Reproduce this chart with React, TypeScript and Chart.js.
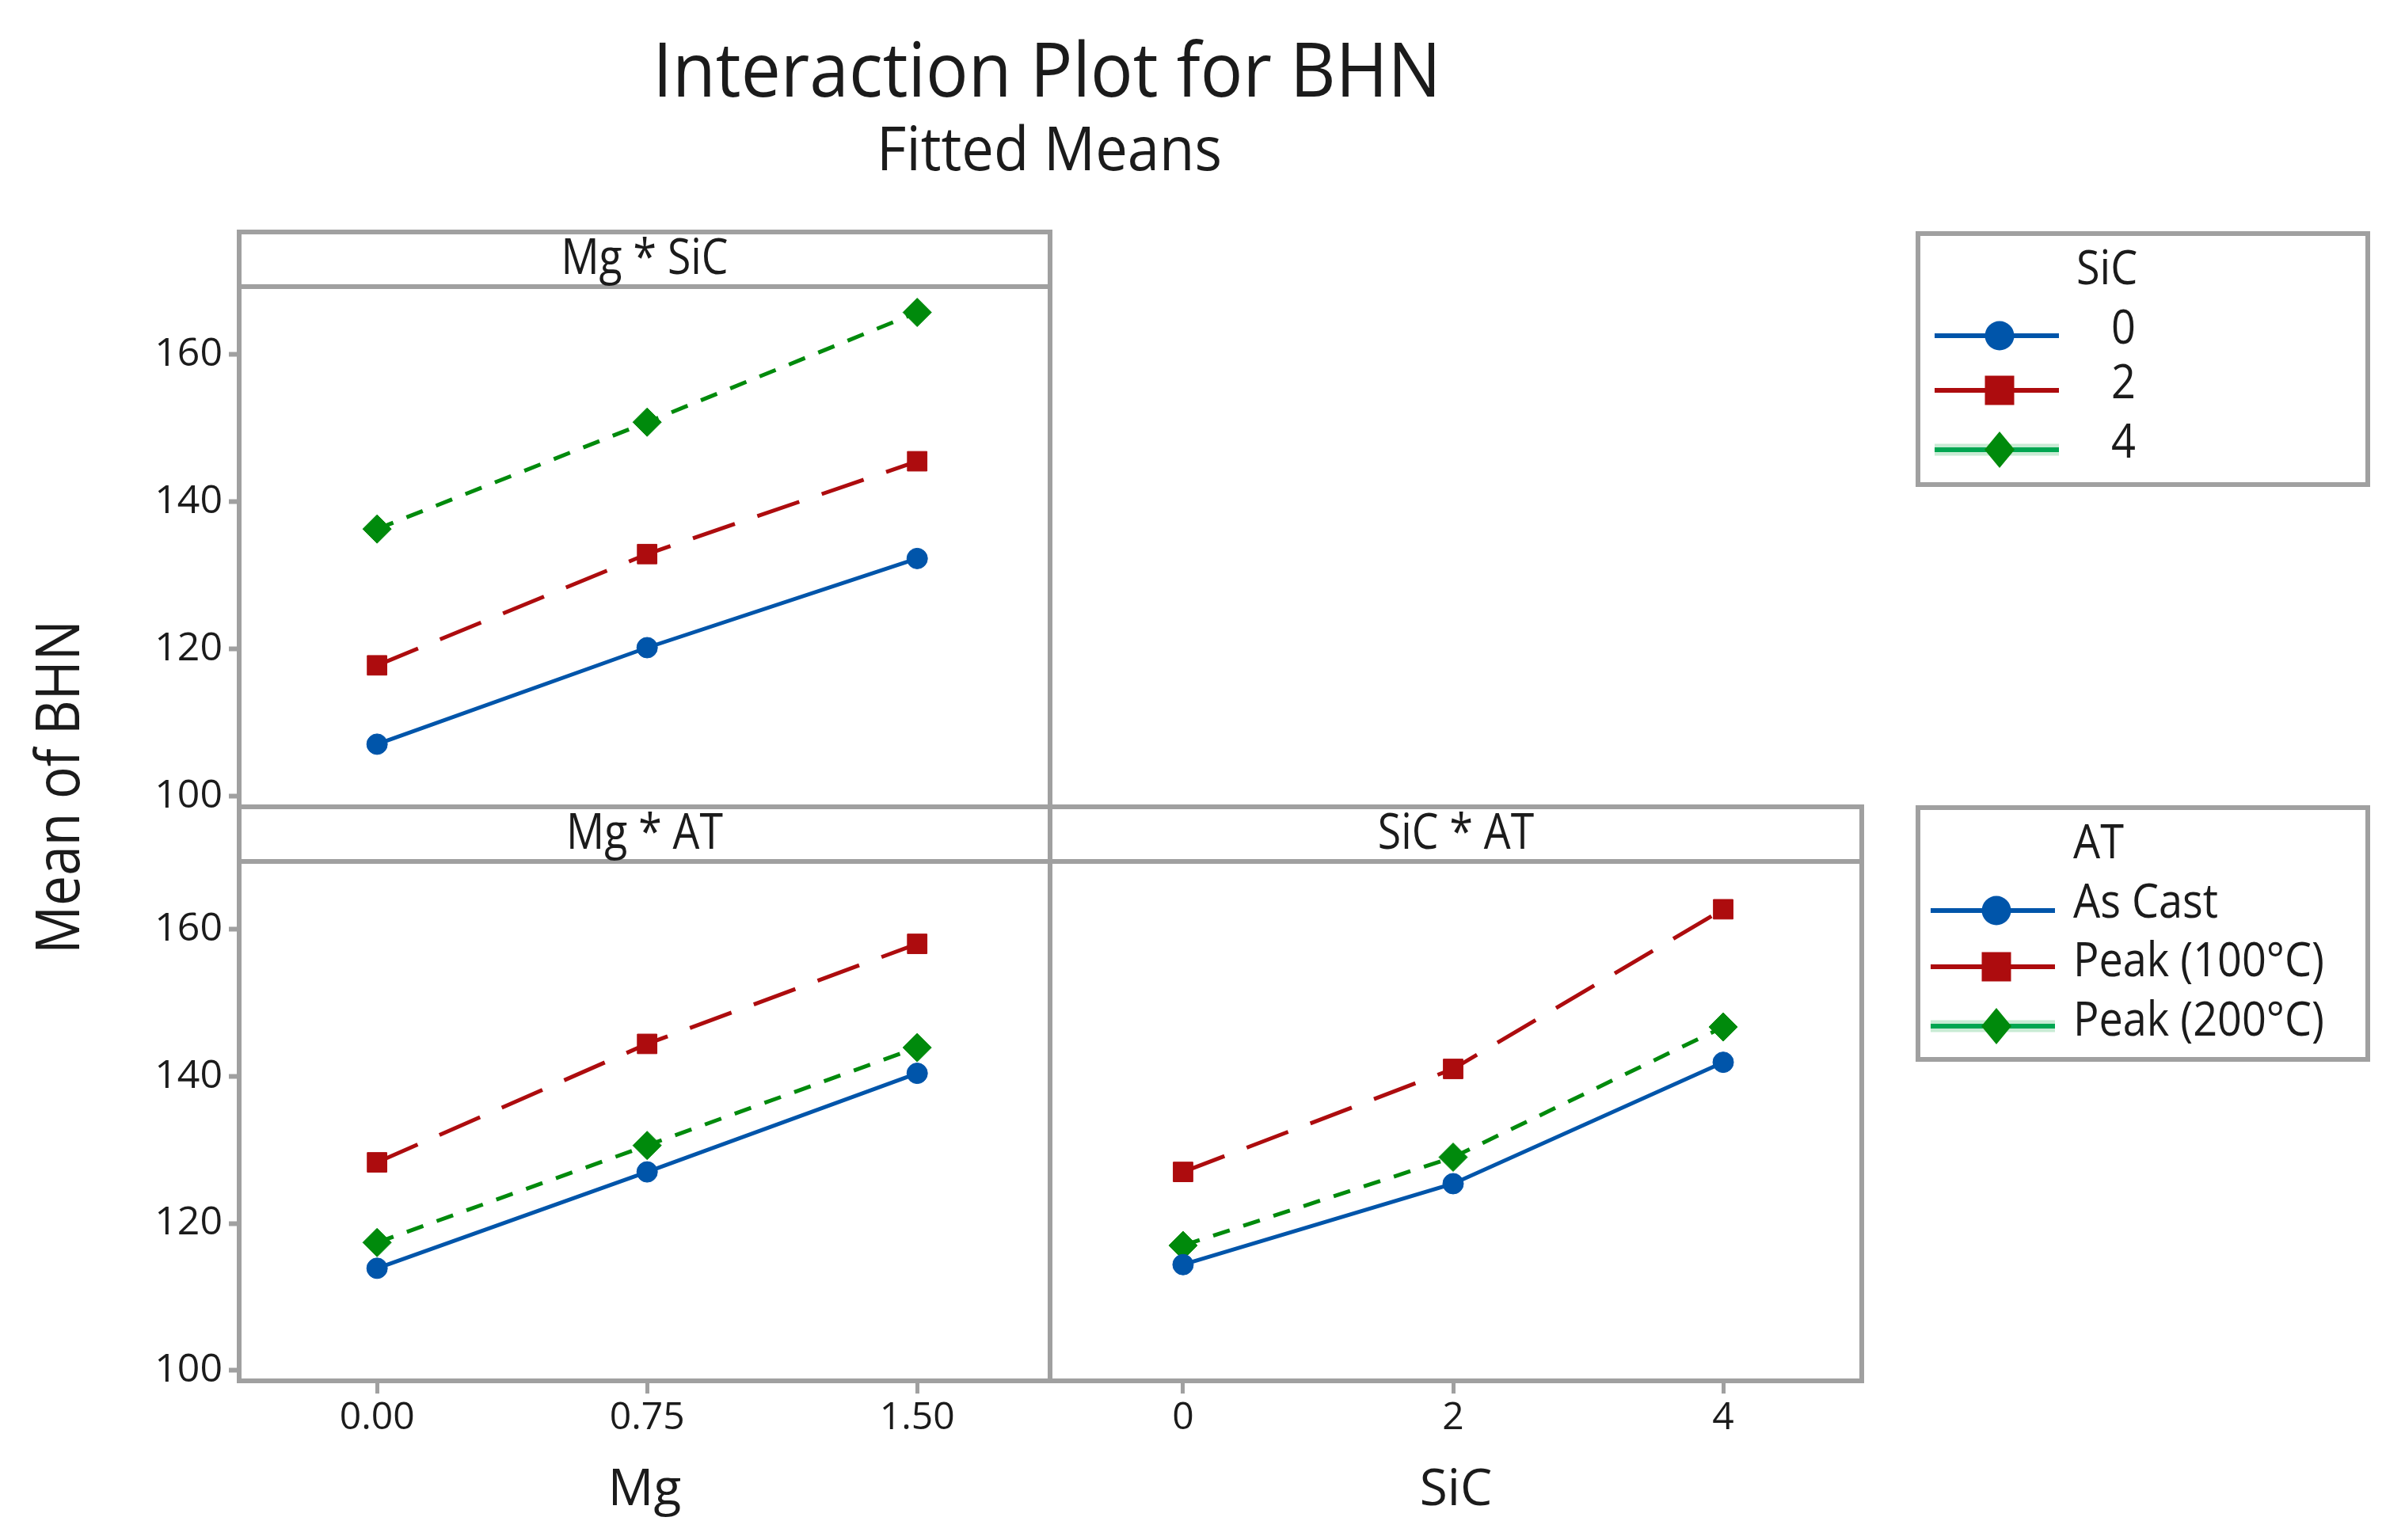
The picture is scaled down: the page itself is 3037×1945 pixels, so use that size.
import React, { useEffect, useRef } from "react";
import { Chart, registerables } from "chart.js";

Chart.register(...registerables);

// ---------------- data ----------------
const mgLevels = [0, 0.75, 1.5];
const mgTickLabels = ["0.00", "0.75", "1.50"];
const sicLevels = [0, 2, 4];
const sicTickLabels = ["0", "2", "4"];
const yTickValues = [100, 120, 140, 160];
const yTickLabels = ["100", "120", "140", "160"];

const sicNames = ["0", "2", "4"];
const atNames = ["As Cast", "Peak (100°C)", "Peak (200°C)"];

// Mg * SiC (series = SiC level)
const mgSic0 = [107.1, 120.2, 132.3];
const mgSic2 = [117.8, 132.9, 145.5];
const mgSic4 = [136.3, 150.8, 165.7];

// Mg * AT (series = AT)
const mgAsCast = [113.9, 127.0, 140.4];
const mgPeak100 = [128.3, 144.4, 158.0];
const mgPeak200 = [117.4, 130.6, 143.9];

// SiC * AT (series = AT)
const sicAsCast = [114.4, 125.4, 141.9];
const sicPeak100 = [127.0, 141.0, 162.7];
const sicPeak200 = [117.0, 129.0, 146.7];

// ---------------- styles ----------------
const FONT = '"Open Sans", "Noto Sans", sans-serif';
const GRAY = "#a0a0a0";
const INK = "#1b1b1b";

const SERIES_STYLES = [
  { color: "#0055aa", dash: [] as number[], point: "circle", radius: 13 },
  { color: "#ad0c0e", dash: [56, 30], point: "rect", radius: 17.5 },
  { color: "#008a0c", dash: [22, 18], point: "rectRot", radius: 18 },
];

const Y_MIN = 98.6;
const Y_MAX = 169.2;
const HEADER_H = 69;
const Y_AXIS_W = 140;
const X_AXIS_H = 201;

const framePlugin = {
  id: "panelFrame",
  afterDraw(chart: any, _args: any, opts: any) {
    const { ctx, chartArea: a } = chart;
    ctx.save();
    ctx.strokeStyle = GRAY;
    ctx.lineWidth = 6;
    ctx.strokeRect(a.left, a.top, a.right - a.left, a.bottom - a.top);
    const hTop = a.top - HEADER_H;
    ctx.strokeRect(a.left, hTop, a.right - a.left, HEADER_H);
    ctx.fillStyle = INK;
    ctx.font = `63px ${FONT}`;
    ctx.textAlign = "center";
    ctx.textBaseline = "middle";
    ctx.translate((a.left + a.right) / 2, hTop + HEADER_H / 2 + 1);
    ctx.scale(0.85, 1);
    ctx.fillText(opts.header || "", 0, 0);
    ctx.restore();
  },
};

type PanelDef = {
  key: string;
  left: number;
  top: number;
  width: number;
  height: number;
  padding: { top: number; left: number; right: number; bottom: number };
  header: string;
  xLevels: number[];
  xLabels: string[];
  xMin: number;
  xMax: number;
  showX: boolean;
  xTitle: string;
  showY: boolean;
  series: number[][];
  names: string[];
};

const panels: PanelDef[] = [
  {
    key: "mgSic",
    left: 162,
    top: 290,
    width: 1168,
    height: 733,
    padding: { top: 72, left: 0, right: 4, bottom: 4 },
    header: "Mg * SiC",
    xLevels: mgLevels,
    xLabels: mgTickLabels,
    xMin: -0.383,
    xMax: 1.869,
    showX: false,
    xTitle: "Mg",
    showY: true,
    series: [mgSic0, mgSic2, mgSic4],
    names: sicNames,
  },
  {
    key: "mgAt",
    left: 162,
    top: 1016,
    width: 1168,
    height: 929,
    padding: { top: 72, left: 0, right: 4, bottom: 0 },
    header: "Mg * AT",
    xLevels: mgLevels,
    xLabels: mgTickLabels,
    xMin: -0.383,
    xMax: 1.869,
    showX: true,
    xTitle: "Mg",
    showY: true,
    series: [mgAsCast, mgPeak100, mgPeak200],
    names: atNames,
  },
  {
    key: "sicAt",
    left: 1322,
    top: 1016,
    width: 1033,
    height: 929,
    padding: { top: 72, left: 4, right: 4, bottom: 0 },
    header: "SiC * AT",
    xLevels: sicLevels,
    xLabels: sicTickLabels,
    xMin: -0.985,
    xMax: 5.026,
    showX: true,
    xTitle: "SiC",
    showY: false,
    series: [sicAsCast, sicPeak100, sicPeak200],
    names: atNames,
  },
];

function makeConfig(p: PanelDef): any {
  return {
    type: "line",
    data: {
      datasets: p.series.map((vals, i) => {
        const s = SERIES_STYLES[i];
        return {
          label: p.names[i],
          data: p.xLevels.map((x, j) => ({ x, y: vals[j] })),
          borderColor: s.color,
          backgroundColor: s.color,
          borderWidth: 5,
          borderDash: s.dash,
          pointStyle: s.point,
          pointRadius: s.radius,
          pointHoverRadius: s.radius,
          pointBackgroundColor: s.color,
          pointBorderColor: s.color,
          pointBorderWidth: 1,
          tension: 0,
          fill: false,
        };
      }),
    },
    options: {
      animation: false,
      responsive: false,
      events: [],
      layout: { padding: p.padding, autoPadding: false },
      plugins: {
        legend: { display: false },
        tooltip: { enabled: false },
        title: { display: false },
        panelFrame: { header: p.header },
      },
      scales: {
        x: {
          type: "linear",
          position: "bottom",
          min: p.xMin,
          max: p.xMax,
          display: p.showX,
          afterBuildTicks: (s: any) => {
            s.ticks = p.xLevels.map((v) => ({ value: v }));
          },
          afterFit: (s: any) => {
            if (p.showX) s.height = X_AXIS_H;
            s.paddingLeft = 0;
            s.paddingRight = 0;
          },
          ticks: {
            autoSkip: false,
            maxRotation: 0,
            callback: (_v: any, i: number) => p.xLabels[i],
            font: { family: FONT, size: 48 },
            color: INK,
            padding: 3,
          },
          grid: {
            drawOnChartArea: false,
            drawTicks: true,
            tickLength: 16,
            tickWidth: 5,
            tickColor: GRAY,
          },
          border: { display: false },
          title: {
            display: true,
            text: p.xTitle,
            font: { family: FONT, size: 64 },
            color: INK,
            padding: { top: 0, bottom: 24 },
          },
        },
        y: {
          type: "linear",
          position: "left",
          min: Y_MIN,
          max: Y_MAX,
          display: p.showY,
          afterBuildTicks: (s: any) => {
            s.ticks = yTickValues.map((v) => ({ value: v }));
          },
          afterFit: (s: any) => {
            if (p.showY) s.width = Y_AXIS_W;
            s.paddingTop = 0;
            s.paddingBottom = 0;
          },
          ticks: {
            autoSkip: false,
            callback: (_v: any, i: number) => yTickLabels[i],
            font: { family: FONT, size: 50 },
            color: INK,
            padding: 8,
          },
          grid: {
            drawOnChartArea: false,
            drawTicks: true,
            tickLength: 13,
            tickWidth: 6,
            tickColor: GRAY,
          },
          border: { display: false },
        },
      },
    },
    plugins: [framePlugin],
  };
}

function Panel({ p }: { p: PanelDef }) {
  const ref = useRef<HTMLCanvasElement | null>(null);
  useEffect(() => {
    if (!ref.current) return;
    const chart = new Chart(ref.current, makeConfig(p));
    return () => chart.destroy();
  }, [p]);
  return (
    <canvas
      ref={ref}
      width={p.width}
      height={p.height}
      style={{ position: "absolute", left: p.left, top: p.top, width: p.width, height: p.height }}
    />
  );
}

function Label(props: {
  text: string;
  x: number;
  cy: number;
  size: number;
  anchor?: "left" | "center";
  sx?: number;
}) {
  const { text, x, cy, size, anchor = "left", sx = 1 } = props;
  const style: React.CSSProperties = {
    position: "absolute",
    left: x,
    top: cy - 0.531 * size,
    fontFamily: FONT,
    fontSize: size,
    lineHeight: `${size}px`,
    whiteSpace: "nowrap",
    color: INK,
  };
  if (anchor === "center") {
    style.transform = `translateX(-50%) scaleX(${sx})`;
  } else {
    style.transformOrigin = "left center";
    style.transform = `scaleX(${sx})`;
  }
  return <div style={style}>{text}</div>;
}

const legends = [
  {
    box: { x: 2422, y: 295, w: 568, h: 317 },
    title: "SiC",
    titleX: 2622,
    titleY: 338,
    names: sicNames,
    textX: 2666,
    textY: [413, 482, 557],
    symY: [424, 493, 568],
    lineX: [2443, 2600],
    markX: 2525,
  },
  {
    box: { x: 2422, y: 1020, w: 568, h: 318 },
    title: "AT",
    titleX: 2618,
    titleY: 1063,
    names: atNames,
    textX: 2618,
    textY: [1138, 1212, 1287],
    symY: [1150, 1221, 1296],
    lineX: [2438, 2595],
    markX: 2521,
  },
];

function Marker({ shape, x, y, color }: { shape: string; x: number; y: number; color: string }) {
  if (shape === "circle") return <circle cx={x} cy={y} r={18.5} fill={color} />;
  if (shape === "rect") return <rect x={x - 18.5} y={y - 18.5} width={37} height={37} fill={color} />;
  return (
    <polygon
      points={`${x - 19},${y} ${x},${y - 23} ${x + 19},${y} ${x},${y + 23}`}
      fill={color}
    />
  );
}

export default function App() {
  useEffect(() => {
    document.body.style.margin = "0";
    document.body.style.background = "#ffffff";
  }, []);
  return (
    <div
      style={{
        position: "absolute",
        left: 0,
        top: 0,
        width: 3037,
        height: 1945,
        background: "#ffffff",
        overflow: "hidden",
      }}
    >
      <Label text="Interaction Plot for BHN" x={1322} cy={88} size={96} anchor="center" sx={0.93} />
      <Label text="Fitted Means" x={1325} cy={188} size={77} anchor="center" sx={0.94} />
      <div
        style={{
          position: "absolute",
          left: 70,
          top: 994,
          fontFamily: FONT,
          fontSize: 77,
          lineHeight: "77px",
          whiteSpace: "nowrap",
          color: INK,
          transform: "translate(-50%, -50%) rotate(-90deg) scaleX(0.88)",
        }}
      >
        Mean of BHN
      </div>

      {panels.map((p) => (
        <Panel key={p.key} p={p} />
      ))}

      <svg
        width={3037}
        height={1945}
        style={{ position: "absolute", left: 0, top: 0, pointerEvents: "none" }}
      >
        {legends.map((lg, li) => (
          <g key={li}>
            <rect
              x={lg.box.x}
              y={lg.box.y}
              width={lg.box.w}
              height={lg.box.h}
              fill="none"
              stroke={GRAY}
              strokeWidth={6}
            />
            {lg.names.map((_n, i) => {
              const s = SERIES_STYLES[i];
              const y = lg.symY[i];
              return (
                <g key={i}>
                  {s.point === "rectRot" && (
                    <line
                      x1={lg.lineX[0]}
                      x2={lg.lineX[1]}
                      y1={y}
                      y2={y}
                      stroke="#c8ebd4"
                      strokeWidth={15}
                    />
                  )}
                  <line
                    x1={lg.lineX[0]}
                    x2={lg.lineX[1]}
                    y1={y}
                    y2={y}
                    stroke={s.point === "rectRot" ? "#00a651" : s.color}
                    strokeWidth={6}
                  />
                  <Marker shape={s.point} x={lg.markX} y={y} color={s.color} />
                </g>
              );
            })}
          </g>
        ))}
      </svg>

      {legends.map((lg, li) => (
        <React.Fragment key={li}>
          <Label text={lg.title} x={lg.titleX} cy={lg.titleY} size={60} sx={0.9} />
          {lg.names.map((n, i) => (
            <Label key={i} text={n} x={lg.textX} cy={lg.textY[i]} size={60} sx={0.9} />
          ))}
        </React.Fragment>
      ))}
    </div>
  );
}
